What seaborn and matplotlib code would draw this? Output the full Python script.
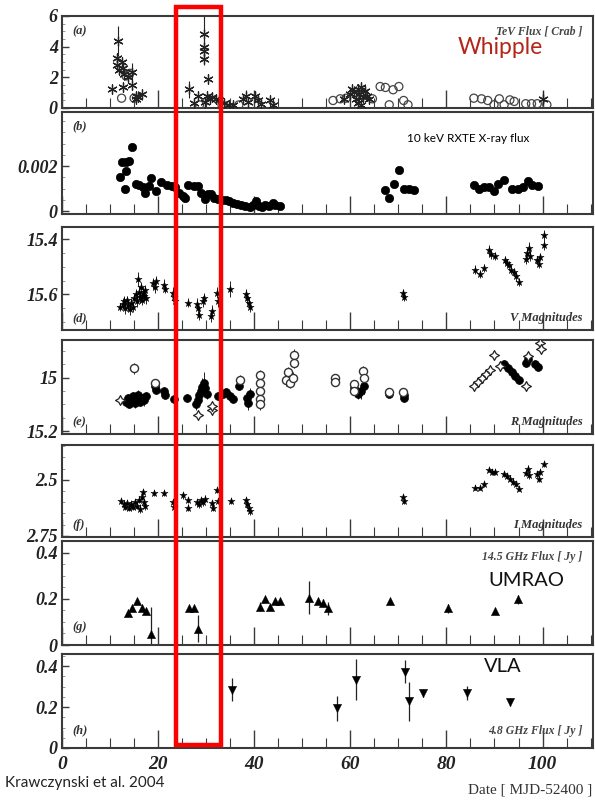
import matplotlib

matplotlib.use("Agg")
import matplotlib.pyplot as plt
import numpy as np
import seaborn as sns
from matplotlib.patches import Rectangle
from matplotlib.ticker import AutoMinorLocator, MultipleLocator

W_PX, H_PX = 595, 800
AX_LEFT, AX_RIGHT = 62, 593
X_MAX = 110.5

# ---- (a) TeV flux, Whipple (asterisks) and others (open circles)
tev_star_day = [10.4, 11.4, 11.5, 11.7, 11.9, 12.4, 12.7, 12.9, 13.7, 14.5, 14.6, 12.7,
                15.3, 15.5, 15.8, 16.6,
                26.4, 27.4, 28.2, 29.5, 29.5, 29.5, 29.5, 30.4, 30.1, 30.7, 31.3, 32.1,
                32.7, 29.8, 33.7, 34.8, 35.6, 37.6, 38.2, 38.8, 40.1, 40.7, 41.5, 43.2, 43.9,
                58.7, 59.9, 60.3, 60.7, 61.1, 61.5, 61.9, 62.3, 62.6, 63.0, 63.4, 63.8,
                61.5, 62.3, 100.0]
tev_star_flux = [1.23, 3.26, 2.83, 4.38, 2.51, 2.98, 2.62, 2.19, 2.04, 2.34, 1.49, 1.34,
                 0.81, 0.60, 0.70, 0.91,
                 1.23, 0.34, 0.81, 4.85, 4.00, 3.74, 3.19, 1.91, 0.81, 0.60, 0.70, 0.60,
                 0.49, 0.38, 0.34, 0.21, 0.17, 0.60, 0.81, 0.38, 0.81, 0.49, 0.28, 0.49, 0.21,
                 0.60, 0.91, 1.23, 1.02, 0.60, 1.23, 0.91, 1.34, 0.70, 1.13, 0.81, 0.60,
                 0.34, 0.21, 0.60]
tev_star_err = [0.30, 0.30, 0.30, 1.00, 0.30, 0.30, 0.30, 0.30, 0.30, 0.60, 0.30, 0.30,
                0.20, 0.20, 0.20, 0.20,
                0.55, 0.20, 0.20, 1.15, 0.50, 0.40, 0.40, 0.30, 0.20, 0.20, 0.20, 0.20,
                0.20, 0.20, 0.20, 0.15, 0.15, 0.20, 0.35, 0.20, 0.30, 0.20, 0.20, 0.20, 0.15,
                0.20, 0.30, 0.30, 0.30, 0.20, 0.30, 0.30, 0.30, 0.20, 0.35, 0.20, 0.20,
                0.20, 0.15, 0.50]
tev_circ_day = [12.4, 13.3, 14.1, 15.0, 28.6, 33.3, 36.8,
                56.4, 57.9, 59.1, 62.6, 64.6, 66.2, 67.3, 68.9, 70.1, 68.1, 71.1, 72.0,
                85.7, 87.3, 88.6, 89.9, 91.0, 92.0, 93.2, 94.1, 96.5, 97.7, 98.9, 100.9]
tev_circ_flux = [0.64, 2.09, 2.26, 0.64, 0.20, 0.20, 0.20,
                 0.49, 0.60, 0.64, 0.81, 0.60, 1.40, 1.34, 1.19, 1.40, 0.21, 0.49, 0.21,
                 0.64, 0.60, 0.49, 0.21, 0.60, 0.21, 0.53, 0.43, 0.28, 0.28, 0.28, 0.21]

# ---- (b) 10 keV RXTE X-ray flux
xray_day = [12.1, 12.5, 13.3, 13.9, 13.3, 13.2, 14.6, 15.3, 16.1, 16.8, 17.2, 18.2,
            18.6, 19.6, 20.5, 21.9, 22.9, 23.6, 24.3, 25.1, 25.6, 26.2, 27.4, 28.2,
            29.0, 29.8, 30.4, 31.1, 31.7, 32.5, 33.3, 34.1, 34.8, 35.6, 36.4, 37.2,
            38.0, 39.2, 39.8, 40.3, 40.9, 41.7, 42.3, 43.1, 43.9, 44.4, 45.4,
            67.2, 68.1, 69.1, 70.1, 71.1, 72.2, 73.2,
            85.7, 86.8, 87.9, 88.9, 89.9, 90.8, 91.9, 93.6, 94.8, 95.9, 96.9, 97.9, 99.1]
xray_flux = [1.50, 2.20, 2.20, 2.23, 1.80, 0.98, 2.85, 1.21, 1.14, 1.07, 0.82, 1.10,
             1.45, 0.89, 1.28, 1.14, 1.10, 1.05, 0.82, 0.67, 0.60, 1.14, 1.10, 1.10,
             0.82, 0.55, 0.75, 0.75, 0.60, 0.55, 0.50, 0.47, 0.43, 0.37, 0.31, 0.25,
             0.22, 0.18, 0.25, 0.43, 0.21, 0.18, 0.25, 0.22, 0.34, 0.25, 0.22,
             0.94, 0.56, 1.20, 1.82, 1.00, 0.98, 0.94,
             1.17, 0.98, 1.05, 1.08, 0.88, 1.20, 1.38, 0.96, 0.96, 1.05, 1.32, 1.17, 1.13]
xray_flux = [v * 1e-3 for v in xray_flux]

# ---- (d) V magnitudes
v_day = [12.1, 12.6, 12.9, 13.2, 13.5, 13.8, 14.1, 14.4, 14.7, 15.0, 15.3, 15.6, 15.9,
         16.1, 16.3, 16.5, 16.7, 16.9, 17.1, 17.3, 17.5, 19.0, 19.3, 19.5, 21.2, 21.4,
         23.2, 23.4, 23.5, 26.2, 28.0, 28.3, 28.5, 29.3, 29.6, 31.1, 31.3, 32.2, 32.4,
         35.0, 38.3, 38.6, 38.9, 39.2, 71.0, 71.2,
         86.0, 86.9, 87.9, 88.8, 89.2, 90.1, 92.2, 92.6, 93.0, 93.5, 94.0, 94.5, 95.0,
         96.5, 96.8, 97.1, 97.4, 98.8, 99.2, 99.5, 100.2, 100.2]
v_mag = [15.645, 15.635, 15.625, 15.650, 15.620, 15.640, 15.655, 15.630, 15.645, 15.615,
         15.600, 15.625, 15.545, 15.590, 15.610, 15.575, 15.620, 15.595, 15.605, 15.585,
         15.615, 15.560, 15.575, 15.550, 15.565, 15.580, 15.595, 15.610, 15.625, 15.630,
         15.635, 15.650, 15.675, 15.625, 15.615, 15.680, 15.660, 15.595, 15.625, 15.580,
         15.600, 15.615, 15.630, 15.645, 15.595, 15.610,
         15.510, 15.525, 15.505, 15.440, 15.455, 15.460, 15.475, 15.485, 15.495, 15.510,
         15.520, 15.535, 15.555, 15.470, 15.450, 15.430, 15.460, 15.475, 15.490, 15.465,
         15.385, 15.420]
v_err = [0.015, 0.020, 0.020, 0.020, 0.015, 0.020, 0.020, 0.015, 0.020, 0.015, 0.020,
         0.020, 0.025, 0.020, 0.020, 0.020, 0.020, 0.020, 0.020, 0.020, 0.020, 0.020,
         0.020, 0.015, 0.020, 0.015, 0.020, 0.020, 0.020, 0.015, 0.020, 0.020, 0.020,
         0.020, 0.020, 0.020, 0.020, 0.020, 0.020, 0.030, 0.020, 0.020, 0.020, 0.020,
         0.015, 0.015,
         0.015, 0.015, 0.015, 0.020, 0.015, 0.015, 0.015, 0.015, 0.015, 0.015, 0.015,
         0.015, 0.015, 0.020, 0.020, 0.020, 0.020, 0.015, 0.015, 0.015, 0.020, 0.020]

# ---- (e) R magnitudes: filled circles, open circles, open stars
r_fill_day = [13.3, 13.7, 14.0, 14.4, 14.8, 15.1, 15.4, 15.8, 16.2, 16.6, 17.0, 17.4,
              19.3, 19.5, 21.3, 21.5, 23.3, 26.0, 27.8, 28.2, 28.6, 28.9, 29.2, 29.5,
              29.8, 30.1, 32.5, 33.5, 34.2, 35.0, 35.6, 36.8, 38.4, 38.8, 39.1,
              60.8, 61.5, 62.2, 62.8, 68.0, 71.1, 71.1,
              92.0, 92.8, 93.6, 94.3, 95.0, 96.6, 97.0, 98.5, 99.0]
r_fill_mag = [15.090, 15.075, 15.100, 15.085, 15.070, 15.095, 15.080, 15.065, 15.090,
              15.075, 15.085, 15.070, 15.030, 15.045, 15.050, 15.065, 15.080, 15.075,
              15.100, 15.085, 15.065, 15.050, 15.035, 15.020, 15.040, 15.060, 15.070,
              15.060, 15.055, 15.070, 15.080, 15.030, 15.075, 15.095, 15.060,
              15.040, 15.060, 15.050, 15.030, 15.060, 15.075, 15.065,
              14.950, 14.965, 14.980, 14.995, 15.010, 14.945, 14.930, 14.950, 14.960]
r_fill_err = [0.015, 0.015, 0.015, 0.020, 0.015, 0.020, 0.015, 0.020, 0.015, 0.015,
              0.020, 0.015, 0.015, 0.015, 0.015, 0.015, 0.015, 0.015, 0.020, 0.020,
              0.020, 0.030, 0.035, 0.040, 0.020, 0.020, 0.015, 0.015, 0.015, 0.015,
              0.015, 0.015, 0.020, 0.025, 0.020,
              0.020, 0.020, 0.030, 0.030, 0.010, 0.015, 0.015,
              0.015, 0.015, 0.015, 0.015, 0.015, 0.015, 0.015, 0.015, 0.015]
r_open_day = [14.9, 19.4, 37.0, 41.1, 41.1, 41.1, 41.1, 41.1, 46.6, 47.0, 47.5, 48.2,
              48.2, 48.0, 56.8, 56.8, 60.7, 60.8, 62.6, 62.8, 68.0, 71.0]
r_open_mag = [14.965, 15.020, 15.010, 14.990, 15.020, 15.050, 15.080, 15.100, 15.010,
              14.980, 15.020, 14.915, 14.945, 15.000, 15.000, 15.015, 15.025, 15.050,
              14.975, 15.000, 15.055, 15.055]
r_open_err = [0.020, 0.015, 0.020, 0.020, 0.020, 0.020, 0.020, 0.020, 0.020, 0.020,
              0.020, 0.020, 0.020, 0.020, 0.015, 0.015, 0.015, 0.015, 0.020, 0.020,
              0.010, 0.010]
r_star_day = [12.1, 28.2, 31.3, 31.3, 85.7, 86.5, 87.3, 88.2, 89.0, 90.0, 91.2, 96.6,
              96.9, 99.4, 99.6]
r_star_mag = [15.085, 15.140, 15.120, 15.105, 15.030, 15.015, 15.000, 14.985, 14.970,
              14.915, 14.955, 15.030, 14.920, 14.870, 14.895]

# ---- (f) I magnitudes
i_day = [12.3, 12.8, 13.2, 13.6, 14.0, 14.4, 14.8, 15.2, 15.6, 16.0, 16.3, 16.6, 16.8,
         17.0, 17.3, 19.2, 21.3, 23.2, 23.4, 25.1, 26.2, 26.3, 28.1, 28.5, 28.9, 29.4,
         29.8, 31.2, 31.4, 32.3, 32.4, 35.2, 38.3, 38.6, 38.9, 39.2, 71.0, 71.2,
         86.0, 86.9, 87.9, 88.9, 89.5, 90.2, 92.0, 92.6, 93.2, 93.8, 94.4, 95.0,
         96.6, 96.9, 97.2, 98.9, 99.2, 99.5, 100.2]
i_mag = [2.595, 2.610, 2.620, 2.605, 2.625, 2.610, 2.620, 2.600, 2.615, 2.590, 2.630,
         2.575, 2.555, 2.600, 2.615, 2.560, 2.560, 2.600, 2.620, 2.570, 2.590, 2.625,
         2.600, 2.610, 2.590, 2.600, 2.585, 2.605, 2.625, 2.545, 2.595, 2.595, 2.590,
         2.610, 2.625, 2.640, 2.575, 2.595,
         2.535, 2.535, 2.520, 2.455, 2.465, 2.465, 2.475, 2.485, 2.495, 2.510, 2.520,
         2.540, 2.470, 2.450, 2.480, 2.475, 2.495, 2.465, 2.430]
i_err = [0.012, 0.015, 0.015, 0.015, 0.015, 0.015, 0.015, 0.015, 0.015, 0.015, 0.020,
         0.015, 0.015, 0.015, 0.020, 0.012, 0.012, 0.015, 0.020, 0.015, 0.015, 0.015,
         0.015, 0.015, 0.015, 0.015, 0.015, 0.015, 0.015, 0.015, 0.015, 0.012, 0.015,
         0.015, 0.015, 0.015, 0.012, 0.012,
         0.012, 0.012, 0.012, 0.012, 0.012, 0.012, 0.012, 0.012, 0.012, 0.012, 0.012,
         0.012, 0.015, 0.015, 0.015, 0.015, 0.015, 0.015, 0.012]

# ---- (g) 14.5 GHz UMRAO
umrao_day = [13.7, 14.5, 15.7, 16.6, 17.5, 18.6, 26.4, 27.4, 28.4, 41.3, 42.3, 43.3,
             44.4, 45.4, 51.3, 53.2, 54.4, 55.4, 68.3, 80.3, 90.2, 94.9]
umrao_flux = [0.138, 0.158, 0.189, 0.158, 0.148, 0.046, 0.158, 0.158, 0.071, 0.166,
              0.197, 0.166, 0.189, 0.189, 0.205, 0.189, 0.182, 0.158, 0.189, 0.158,
              0.148, 0.197]
umrao_err = [0.010, 0.010, 0.010, 0.010, 0.010, 0.120, 0.010, 0.010, 0.057, 0.020,
             0.010, 0.010, 0.010, 0.010, 0.070, 0.010, 0.015, 0.030, 0.010, 0.020,
             0.010, 0.020]

# ---- (h) 4.8 GHz VLA
vla_day = [35.4, 57.2, 61.2, 71.3, 72.2, 75.2, 84.2, 93.2]
vla_flux = [0.286, 0.194, 0.335, 0.374, 0.228, 0.269, 0.269, 0.225]
vla_err = [0.057, 0.060, 0.100, 0.055, 0.095, 0.020, 0.035, 0.020]

# panel pixel extents (top, bottom) in the 595x800 picture
PANEL_PX = {
    "a": (16, 108),
    "b": (112, 214),
    "d": (227, 330),
    "e": (340, 434),
    "f": (445, 537),
    "g": (541, 645),
    "h": (654, 748),
}

sns.set_theme(style="ticks")
plt.rcParams["font.family"] = ["Liberation Serif", "DejaVu Serif"]

SERIF_BI = dict(family="Liberation Serif", weight="bold", style="italic")
SPINE_COLOR = "#3a3a3a"

fig = plt.figure(figsize=(W_PX / 100, H_PX / 100), dpi=100)


def make_axes(key):
    top, bottom = PANEL_PX[key]
    rect = [AX_LEFT / W_PX, 1 - bottom / H_PX,
            (AX_RIGHT - AX_LEFT) / W_PX, (bottom - top) / H_PX]
    ax = fig.add_axes(rect)
    ax.set_xlim(0, X_MAX)
    ax.xaxis.set_major_locator(MultipleLocator(20))
    ax.xaxis.set_minor_locator(MultipleLocator(5))
    ax.yaxis.set_minor_locator(AutoMinorLocator(4))
    ax.tick_params(axis="x", which="major", direction="in", length=13, width=1.0,
                   color=SPINE_COLOR, labelbottom=False)
    ax.tick_params(axis="x", which="minor", direction="in", length=7, width=0.8,
                   color=SPINE_COLOR)
    ax.tick_params(axis="y", which="major", direction="in", length=5, width=1.0,
                   color=SPINE_COLOR, pad=3)
    ax.tick_params(axis="y", which="minor", direction="in", length=2.5, width=0.6,
                   color="#888888")
    for spine in ax.spines.values():
        spine.set_visible(True)
        spine.set_color(SPINE_COLOR)
        spine.set_linewidth(1.5)
    ax.set_xlabel("")
    ax.set_ylabel("")
    return ax


def set_yticks(ax, ticks, labels):
    ax.set_yticks(ticks)
    ax.set_yticklabels(labels)
    for lab in ax.get_yticklabels():
        lab.set_fontsize(13)
        lab.set_fontfamily("Liberation Serif")
        lab.set_fontweight("bold")
        lab.set_fontstyle("italic")
        lab.set_color("#222222")


def errbars(ax, x, y, err, lw=0.8, color="#222222"):
    ax.errorbar(x, y, yerr=err, fmt="none", ecolor=color, elinewidth=lw,
                capsize=0, zorder=2)


def panel_text(ax, x, y, s, ha="left", va="top", size=9, color="#333333"):
    ax.text(x, y, s, transform=ax.transAxes, ha=ha, va=va, fontsize=size,
            color=color, **SERIF_BI)


ASTERISK = (6, 2, 0)

# (a)
ax = make_axes("a")
errbars(ax, tev_star_day, tev_star_flux, tev_star_err)
sns.scatterplot(x=tev_circ_day, y=tev_circ_flux, ax=ax, marker="o", s=34,
                facecolor="none", edgecolor="#444444", linewidth=0.9, zorder=3,
                legend=False)
sns.scatterplot(x=tev_star_day, y=tev_star_flux, ax=ax, marker=ASTERISK, s=45,
                color="#222222", edgecolor="#222222", linewidth=0.9, zorder=4,
                legend=False)
ax.set_ylim(0, 6)
set_yticks(ax, [0, 2, 4, 6], ["0", "2", "4", "6"])
panel_text(ax, 0.02, 0.9, "(a)")
panel_text(ax, 0.98, 0.9, "TeV Flux [ Crab ]", ha="right", size=8.5, color="#444444")

# (b)
ax = make_axes("b")
sns.scatterplot(x=xray_day, y=xray_flux, ax=ax, marker="o", s=36, color="black",
                edgecolor="black", linewidth=0.5, zorder=3, legend=False)
ax.set_ylim(-0.00013, 0.0044)
set_yticks(ax, [0, 0.002], ["0", "0.002"])
ax.yaxis.set_minor_locator(MultipleLocator(0.0005))
panel_text(ax, 0.02, 0.92, "(b)")

# (d)
ax = make_axes("d")
errbars(ax, v_day, v_mag, v_err, lw=0.7)
sns.scatterplot(x=v_day, y=v_mag, ax=ax, marker="*", s=30, color="black",
                edgecolor="black", linewidth=0.3, zorder=3, legend=False)
ax.set_ylim(15.73, 15.355)
set_yticks(ax, [15.4, 15.6], ["15.4", "15.6"])
ax.yaxis.set_minor_locator(MultipleLocator(0.05))
panel_text(ax, 0.02, 0.06, "(d)", va="bottom")
panel_text(ax, 0.98, 0.06, "V Magnitudes", ha="right", va="bottom")

# (e)
ax = make_axes("e")
errbars(ax, r_fill_day, r_fill_mag, r_fill_err, lw=0.7)
errbars(ax, r_open_day, r_open_mag, r_open_err, lw=0.7)
sns.scatterplot(x=r_fill_day, y=r_fill_mag, ax=ax, marker="o", s=32, color="black",
                edgecolor="black", linewidth=0.5, zorder=3, legend=False)
sns.scatterplot(x=r_open_day, y=r_open_mag, ax=ax, marker="o", s=34, facecolor="white",
                edgecolor="#333333", linewidth=1.0, zorder=4, legend=False)
sns.scatterplot(x=r_star_day, y=r_star_mag, ax=ax, marker=(4, 1, 0), s=50,
                facecolor="white", edgecolor="#222222", linewidth=0.9, zorder=4,
                legend=False)
ax.set_ylim(15.21, 14.86)
set_yticks(ax, [15.0, 15.2], ["15", "15.2"])
ax.yaxis.set_minor_locator(MultipleLocator(0.05))
panel_text(ax, 0.02, 0.06, "(e)", va="bottom")
panel_text(ax, 0.98, 0.06, "R Magnitudes", ha="right", va="bottom")

# (f)
ax = make_axes("f")
errbars(ax, i_day, i_mag, i_err, lw=0.7)
sns.scatterplot(x=i_day, y=i_mag, ax=ax, marker="*", s=30, color="black",
                edgecolor="black", linewidth=0.3, zorder=3, legend=False)
ax.set_ylim(2.755, 2.345)
set_yticks(ax, [2.5, 2.75], ["2.5", "2.75"])
ax.yaxis.set_minor_locator(MultipleLocator(0.05))
panel_text(ax, 0.02, 0.06, "(f)", va="bottom")
panel_text(ax, 0.98, 0.06, "I Magnitudes", ha="right", va="bottom")

# (g)
ax = make_axes("g")
errbars(ax, umrao_day, umrao_flux, umrao_err, lw=0.9)
sns.scatterplot(x=umrao_day, y=umrao_flux, ax=ax, marker="^", s=36, color="black",
                edgecolor="black", linewidth=0.3, zorder=3, legend=False)
ax.set_ylim(0, 0.45)
set_yticks(ax, [0, 0.2, 0.4], ["0", "0.2", "0.4"])
ax.yaxis.set_minor_locator(MultipleLocator(0.05))
panel_text(ax, 0.02, 0.12, "(g)", va="bottom")
panel_text(ax, 0.98, 0.9, "14.5 GHz Flux [ Jy ]", ha="right", size=8.5,
           color="#444444")

# (h)
ax = make_axes("h")
errbars(ax, vla_day, vla_flux, vla_err, lw=0.9)
sns.scatterplot(x=vla_day, y=vla_flux, ax=ax, marker="v", s=36, color="black",
                edgecolor="black", linewidth=0.3, zorder=3, legend=False)
ax.set_ylim(0, 0.46)
set_yticks(ax, [0, 0.2, 0.4], ["0", "0.2", "0.4"])
ax.yaxis.set_minor_locator(MultipleLocator(0.05))
ax.tick_params(axis="x", which="major", labelbottom=True, pad=6)
for lab in ax.get_xticklabels():
    lab.set_fontsize(14)
    lab.set_fontfamily("Liberation Serif")
    lab.set_fontweight("bold")
    lab.set_fontstyle("italic")
    lab.set_color("#222222")
panel_text(ax, 0.02, 0.12, "(h)", va="bottom")
panel_text(ax, 0.98, 0.12, "4.8 GHz Flux [ Jy ]", ha="right", va="bottom",
           size=8.5, color="#444444")


def fx(px):
    return px / W_PX


def fy(py):
    return 1 - py / H_PX


# overlay labels
fig.text(fx(500), fy(47), "Whipple", ha="center", va="center", fontsize=16.5,
         family="Lato", color="#b3261a")
fig.text(fx(468), fy(138), "10 keV RXTE X-ray flux", ha="center", va="center",
         fontsize=8.5, family="Lato", color="black")
fig.text(fx(526), fy(581), "UMRAO", ha="center", va="center", fontsize=14.5,
         family="Lato", color="#111111")
fig.text(fx(503), fy(666), "VLA", ha="center", va="center", fontsize=14.5,
         family="Lato", color="#111111")
fig.text(fx(5), fy(783), "Krawczynski et al. 2004", ha="left", va="center",
         fontsize=11, family="Lato", color="#222222")
fig.text(fx(592), fy(790), "Date [ MJD-52400 ]", ha="right", va="center",
         fontsize=11, family="Liberation Serif", color="#333333")

# red highlight box around the flare
box = Rectangle((fx(176), fy(745)), fx(221) - fx(176), fy(7) - fy(745),
                transform=fig.transFigure, fill=False, edgecolor="#ff0000",
                linewidth=3.2, zorder=10)
fig.patches.append(box)

fig.savefig("out.png", dpi=100)
plt.close(fig)
